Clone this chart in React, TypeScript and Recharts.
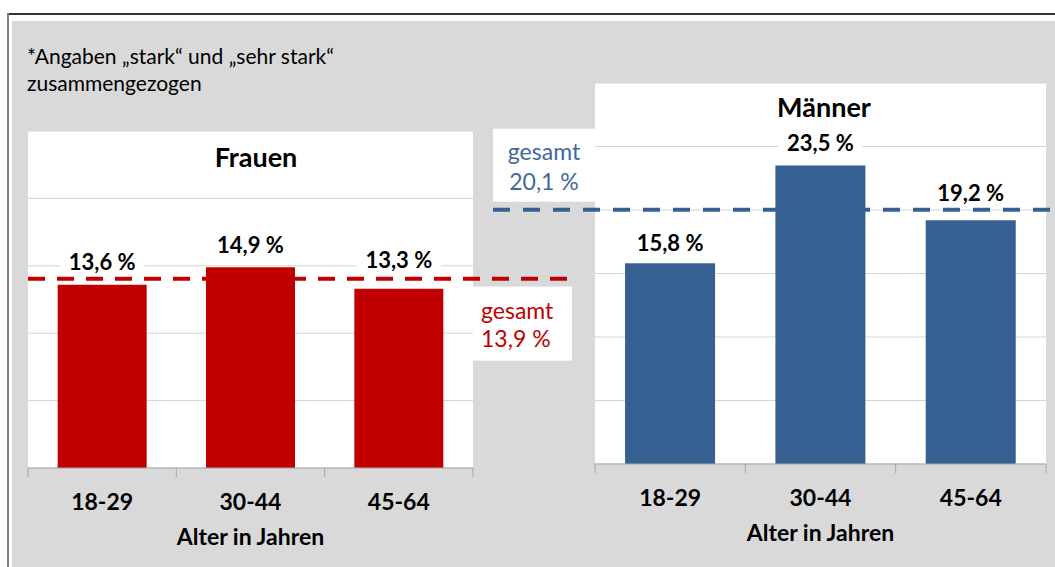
import React from "react";
import { BarChart, Bar, XAxis, YAxis, CartesianGrid, ReferenceLine, LabelList, Label } from "recharts";

// Werte aus der Grafik
const AGE_GROUPS = ["18-29", "30-44", "45-64"];
const FRAUEN_VALUES = [13.6, 14.9, 13.3];
const MAENNER_VALUES = [15.8, 23.5, 19.2];
const FRAUEN_GESAMT = 13.9;
const MAENNER_GESAMT = 20.1;
const FRAUEN_TICKS = [0, 5, 10, 15, 20, 25];
const MAENNER_TICKS = [0, 5, 10, 15, 20, 25, 30];
const FOOTNOTE = ["*Angaben „stark“ und „sehr stark“", "zusammengezogen"];
const AXIS_TITLE = "Alter in Jahren";
const GESAMT_TEXT = "gesamt";

const W = 1055;
const H = 567;
const FONT = "Lato, 'Open Sans', sans-serif";
const RED = "#c00000";
const BLUE = "#376092";
const BLUE_TEXT = "#41689c";
const AXIS_GRAY = "#a6a6a6";

const fmt = (v: number) => v.toFixed(1).replace(".", ",") + " %";

interface PanelProps {
  title: string;
  values: number[];
  gesamt: number;
  ticks: number[];
  color: string;
  textColor: string;
  margin: { top: number; right: number; bottom: number; left: number };
  labelGap: number[];
  side: "left" | "right";
}

function Panel({ title, values, gesamt, ticks, color, textColor, margin, labelGap, side }: PanelProps) {
  const data = AGE_GROUPS.map((age, i) => ({ age, value: values[i] }));
  const band = (W - margin.left - margin.right) / AGE_GROUPS.length;

  const renderTick = ({ x, y, payload, index }: any) => (
    <g>
      <line x1={x - band / 2} x2={x - band / 2} y1={y} y2={y + 9} stroke={AXIS_GRAY} />
      {index === AGE_GROUPS.length - 1 && (
        <line x1={x + band / 2} x2={x + band / 2} y1={y} y2={y + 9} stroke={AXIS_GRAY} />
      )}
      <text x={x} y={y + 33} textAnchor="middle" dominantBaseline="central"
        fontFamily={FONT} fontSize={23} fontWeight={700} fill="#000">
        {payload.value}
      </text>
    </g>
  );

  const renderAxisTitle = ({ viewBox }: any) => (
    <text x={viewBox.x + viewBox.width / 2} y={viewBox.y + 68} textAnchor="middle"
      dominantBaseline="central" fontFamily={FONT} fontSize={23} fontWeight={700} fill="#000">
      {AXIS_TITLE}
    </text>
  );

  const renderValueLabel = (p: any) => {
    const cx = Number(p.x) + Number(p.width) / 2;
    const cy = Number(p.y) - labelGap[p.index];
    return (
      <g>
        <rect x={cx - 42} y={cy - 12} width={84} height={24} fill="#fff" />
        <text x={cx} y={cy} textAnchor="middle" dominantBaseline="central"
          fontFamily={FONT} fontSize={22} fontWeight={700} fill="#000">
          {fmt(Number(p.value))}
        </text>
      </g>
    );
  };

  // gestrichelte Gesamtlinie, läuft über den Plotbereich hinaus, mit Kasten
  const renderGesamt = (p: any) => {
    const { x1, x2, y1 } = p;
    if (side === "left") {
      return (
        <g>
          <line x1={x1} x2={x2 + 99} y1={y1 - 2} y2={y1 - 2} stroke={color} strokeWidth={4} strokeDasharray="17 12" />
          <rect x={x2} y={y1 + 6} width={99} height={74} fill="#fff" />
          <text x={x2 + 8} y={y1 + 38} fontFamily={FONT} fontSize={23} fill={textColor}>{GESAMT_TEXT}</text>
          <text x={x2 + 8} y={y1 + 66} fontFamily={FONT} fontSize={23} fill={textColor}>{fmt(gesamt)}</text>
        </g>
      );
    }
    return (
      <g>
        <line x1={x1 - 102} x2={x2 + 9} y1={y1 + 1} y2={y1 + 1} stroke={color} strokeWidth={4} strokeDasharray="17 13" />
        <rect x={x1 - 102} y={y1 - 80} width={102} height={73} fill="#fff" />
        <text x={x1 - 51} y={y1 - 49} textAnchor="middle" fontFamily={FONT} fontSize={23} fill={textColor}>{GESAMT_TEXT}</text>
        <text x={x1 - 51} y={y1 - 19} textAnchor="middle" fontFamily={FONT} fontSize={23} fill={textColor}>{fmt(gesamt)}</text>
      </g>
    );
  };

  const plotTop = margin.top;
  const titleCx = side === "left" ? 256 : 824;
  const titleCy = side === "left" ? plotTop + 26 : plotTop + 24;

  return (
    <>
      <div style={{ position: "absolute", left: 0, top: 0 }}>
        <BarChart width={W} height={H} data={data} margin={margin} barCategoryGap="20%">
          <CartesianGrid vertical={false} stroke="#d4d4d4" fill="#ffffff" />
          <YAxis hide domain={[ticks[0], ticks[ticks.length - 1]]} ticks={ticks} />
          <XAxis dataKey="age" height={80} stroke={AXIS_GRAY} tickSize={0} tickMargin={0}
            tickLine={false} interval={0} tick={renderTick}>
            <Label content={renderAxisTitle} />
          </XAxis>
          <Bar dataKey="value" fill={color} isAnimationActive={false}>
            <LabelList dataKey="value" content={renderValueLabel} />
          </Bar>
          <ReferenceLine y={gesamt} shape={renderGesamt} />
        </BarChart>
      </div>
      <div style={{
        position: "absolute", left: titleCx - 100, top: titleCy - 15, width: 200, lineHeight: "30px",
        textAlign: "center", fontFamily: FONT, fontSize: 27, fontWeight: 700, color: "#000",
      }}>
        {title}
      </div>
    </>
  );
}

export default function App() {
  return (
    <div style={{ position: "absolute", left: 0, top: 0, width: W, height: H, background: "#fff", overflow: "hidden" }}>
      {/* Rahmen und grauer Hintergrund */}
      <div style={{ position: "absolute", left: 7, top: 13, width: W - 7, height: 2, background: "#333" }} />
      <div style={{ position: "absolute", left: 7, top: 13, width: 1.5, height: H - 13, background: "#7f7f7f" }} />
      <div style={{ position: "absolute", left: 12, top: 21, width: W - 12, height: H - 21, background: "#d9d9d9" }} />

      <div style={{
        position: "absolute", left: 27, top: 42, fontFamily: FONT, fontSize: 21, lineHeight: "27px", color: "#000",
      }}>
        {FOOTNOTE.map((l) => <div key={l}>{l}</div>)}
      </div>

      <Panel
        title="Frauen"
        values={FRAUEN_VALUES}
        gesamt={FRAUEN_GESAMT}
        ticks={FRAUEN_TICKS}
        color={RED}
        textColor={RED}
        margin={{ top: 131, left: 28, right: W - 473, bottom: H - 468 - 80 }}
        labelGap={[23, 23, 29]}
        side="left"
      />
      <Panel
        title="Männer"
        values={MAENNER_VALUES}
        gesamt={MAENNER_GESAMT}
        ticks={MAENNER_TICKS}
        color={BLUE}
        textColor={BLUE_TEXT}
        margin={{ top: 83, left: 595, right: W - 1046, bottom: H - 464 - 80 }}
        labelGap={[21, 23, 28]}
        side="right"
      />
    </div>
  );
}
